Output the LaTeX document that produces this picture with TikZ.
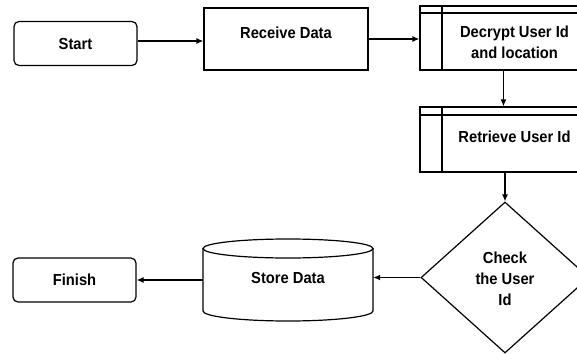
\documentclass[tikz,border=0pt]{standalone}
\usepackage{fontspec}
\setmainfont{Liberation Sans}[FakeStretch=0.92]
\usetikzlibrary{arrows.meta,shapes.geometric}
\begin{document}
\begin{tikzpicture}[x=1pt,y=-1pt,
  every node/.style={font=\bfseries\fontsize{16}{21}\selectfont, inner sep=0pt, align=center},
  box/.style={draw, line width=1.2pt, minimum width=#1, minimum height=62pt},
  term/.style={draw, line width=1.2pt, rounded corners=5pt, minimum width=123pt, minimum height=44pt},
  arr/.style={line width=1.3pt, -{Latex[length=7pt,width=6pt]}},
  edge/.style={line width=1.2pt}
]
\useasboundingbox (0,0) rectangle (577,353);
\begin{scope}
\clip (0,0) rectangle (577,353);
% terminals
\node[term] (start) at (75.5,43.5) {Start};
\node[term] (finish) at (74.5,280) {Finish};
% receive
\node[box=164pt] (receive) at (286,39) {};
\node (receivetext) at (286,33) {Receive Data};
% decrypt (predefined process, cut at right)
\node[box=167pt, minimum height=64pt] (decrypt) at (503.5,38) {};
\draw[edge] (420,13) -- (587,13);
\draw[edge] (442,6) -- (442,70);
\node (decrypttext) at (514.5,42) {Decrypt User Id\\and location};
% retrieve
\node[box=167pt, minimum height=65pt] (retrieve) at (503.5,139.5) {};
\draw[edge] (420,115) -- (587,115);
\draw[edge] (442,107) -- (442,172);
\node (retrievetext) at (514.5,137) {Retrieve User Id};
% decision
\node[diamond, draw, line width=1.2pt, minimum width=168pt, minimum height=151pt] (check) at (505,277.5) {};
\node (checktext) at (505,279) {Check\\the User\\Id};
% store cylinder
\draw[edge] (288,248.5) ellipse[x radius=85, y radius=9.5];
\draw[edge] (203,248.5) -- (203,311) arc[start angle=180, end angle=0, x radius=85, y radius=10] -- (373,248.5);
\node[minimum width=170pt, minimum height=62pt] (store) at (288,279.5) {};
\node (storetext) at (288,278) {Store Data};
% connectors
\draw[arr] (start.east |- 0,41) -- (receive.west |- 0,41);
\draw[arr] (receive.east |- 0,39) -- (decrypt.west |- 0,39);
\draw[arr] (decrypt.south) -- (retrieve.north);
\draw[arr] (retrieve.south -| check.north) -- (check.north);
\draw[arr] (check.west) -- (store.east |- check.west);
\draw[arr] (store.west |- 0,280) -- (finish.east);
\end{scope}
\end{tikzpicture}
\end{document}
